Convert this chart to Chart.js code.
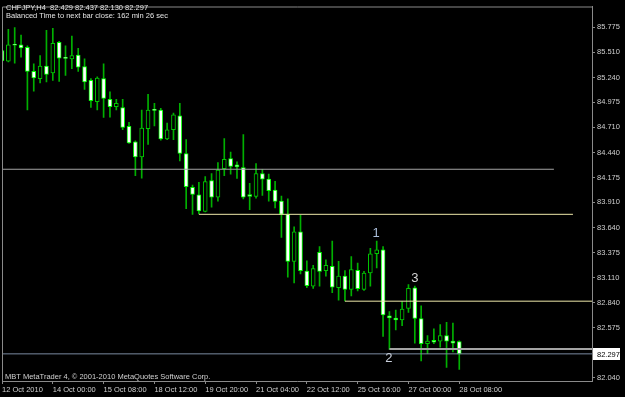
<!DOCTYPE html>
<html>
<head>
<meta charset="utf-8">
<script src="https://cdn.jsdelivr.net/npm/chart.js@4.4.1/dist/chart.umd.min.js"></script>
<style>
  html, body { margin: 0; padding: 0; background: #000; }
  #wrap { width: 625px; height: 397px; }
  canvas { display: block; }
</style>
</head>
<body>
<div id="wrap"><canvas id="chart" width="625" height="397"></canvas></div>
<script>
// CHFJPY H4 bars, 12 Oct 2010 16:00 .. 28 Oct 2010 08:00
const opens = [
  85.526, 85.414, 85.589, 85.589, 85.561, 85.305, 85.228, 85.362, 85.288, 85.614,
  85.450, 85.438, 85.480, 85.357, 85.210, 84.983, 85.228, 85.007, 84.930, 84.920,
  84.720, 84.555, 84.394, 84.694, 84.896, 84.894, 84.586, 84.684, 84.831, 84.431,
  84.071, 83.990, 83.815, 84.141, 83.965, 84.270, 84.376, 84.309, 84.281, 83.994,
  83.973, 84.218, 84.158, 84.042, 83.923, 83.783, 83.282, 83.597, 83.179, 83.019,
  83.379, 83.184, 83.229, 83.001, 83.124, 82.984, 83.187, 82.984, 83.158, 83.363,
  83.405, 82.703, 82.679, 82.658, 82.780, 83.001, 82.674, 82.405, 82.440, 82.433,
  82.492, 82.433, 82.429
];
const highs = [
  85.596, 85.754, 85.772, 85.691, 85.578, 85.386, 85.473, 85.743, 85.764, 85.625,
  85.578, 85.680, 85.551, 85.438, 85.228, 85.246, 85.386, 85.088, 85.007, 85.007,
  84.762, 84.565, 84.894, 85.060, 84.965, 84.912, 84.754, 84.860, 84.965, 84.579,
  84.095, 84.123, 84.186, 84.218, 84.334, 84.589, 84.446, 84.341, 84.631, 84.113,
  84.323, 84.263, 84.211, 84.134, 83.976, 83.948, 83.650, 83.773, 83.289, 83.239,
  83.439, 83.299, 83.499, 83.282, 83.184, 83.334, 83.264, 83.176, 83.421, 83.499,
  83.439, 82.748, 82.763, 82.853, 83.036, 83.019, 82.808, 82.492, 82.563, 82.608,
  82.632, 82.626, 82.437
];
const lows = [
  85.323, 85.407, 85.393, 85.456, 84.894, 85.094, 85.183, 85.193, 85.210, 85.199,
  85.263, 85.333, 85.305, 85.112, 84.920, 84.894, 84.814, 84.818, 84.894, 84.684,
  84.537, 84.194, 84.168, 84.526, 84.723, 84.572, 84.579, 84.579, 84.351, 83.842,
  83.783, 83.790, 83.808, 83.860, 83.923, 84.194, 84.211, 84.165, 83.947, 83.832,
  83.955, 83.983, 83.923, 83.850, 83.537, 83.113, 83.053, 83.148, 83.001, 82.994,
  83.019, 83.124, 82.948, 82.868, 82.861, 82.913, 82.966, 82.973, 83.019, 83.211,
  82.482, 82.345, 82.553, 82.598, 82.738, 82.411, 82.222, 82.300, 82.405, 82.369,
  82.153, 82.317, 82.130
];
const closes = [
  85.420, 85.589, 85.583, 85.554, 85.305, 85.235, 85.362, 85.273, 85.604, 85.446,
  85.443, 85.473, 85.351, 85.193, 84.993, 85.235, 85.017, 84.930, 84.965, 84.709,
  84.544, 84.394, 84.702, 84.894, 84.890, 84.586, 84.684, 84.842, 84.431, 84.078,
  83.994, 83.818, 84.131, 83.965, 84.253, 84.368, 84.292, 84.288, 83.965, 83.973,
  84.218, 84.158, 84.036, 83.920, 83.783, 83.282, 83.597, 83.184, 83.022, 83.205,
  83.176, 83.239, 83.008, 83.124, 82.984, 83.194, 82.990, 83.158, 83.363, 83.405,
  82.713, 82.679, 82.658, 82.773, 82.994, 82.674, 82.405, 82.433, 82.422, 82.492,
  82.433, 82.411, 82.297
];

// axis ticks
const timeTickIdx = [0, 8, 16, 24, 32, 40, 48, 56, 64, 72];
const timeLabels = ['12 Oct 2010', '14 Oct 00:00', '15 Oct 08:00', '18 Oct 12:00', '19 Oct 20:00',
  '21 Oct 04:00', '22 Oct 12:00', '25 Oct 16:00', '27 Oct 00:00', '28 Oct 08:00'];
const priceTicks = [85.775, 85.510, 85.240, 84.975, 84.710, 84.440, 84.175, 83.910,
  83.640, 83.375, 83.110, 82.840, 82.575, 82.040];

// drawn levels (price, first bar, last bar)
const levelPrices = [84.263, 83.783, 82.858, 82.350];
const levelStart = [0, 31, 54, 61];
const levelEnd = [86.9, 89.9, 92.9, 92.9];

// wave marks
const waveText = ['1', '2', '3'];
const waveIdx = [58.9, 60.9, 65];
const wavePrice = [83.576, 82.250, 83.103];

const X_MAX = 92.9;
const FONT = "'Liberation Sans', Arial, sans-serif";
const last = closes.length - 1;
const bid = closes[last];

const levelColors = ['#a4a4a4', '#eee8aa', '#eee8aa', '#a4a4a4'];
const levelWidths = [1.2, 1, 1, 2];
const waveColors = ['#a9bcd8', '#c9d0dc', '#d4d4d4'];

const mtOverlay = {
  id: 'mtOverlay',
  afterDraw(chart) {
    const ctx = chart.ctx;
    const a = chart.chartArea;
    const xs = chart.scales.x, ys = chart.scales.y;
    ctx.save();
    // frame left / top
    ctx.strokeStyle = '#8a8a8a';
    ctx.lineWidth = 1;
    ctx.beginPath();
    ctx.moveTo(a.left + 0.5, a.bottom);
    ctx.lineTo(a.left + 0.5, a.top + 0.5);
    ctx.lineTo(a.right, a.top + 0.5);
    ctx.stroke();

    ctx.font = '7.5px ' + FONT;
    ctx.textBaseline = 'middle';
    ctx.textAlign = 'left';
    ctx.fillStyle = '#e4e4e4';
    ctx.fillText('CHFJPY,H4  ' + [opens[last], highs[last], lows[last], closes[last]].map(v => v.toFixed(3)).join(' '), 6, 7.5);
    ctx.fillText('Balanced Time to next bar close: 162 min 26 sec', 6, 16);
    ctx.fillStyle = '#d0d0d0';
    ctx.fillText('MBT MetaTrader 4, \u00a9 2001-2010 MetaQuotes Software Corp.', 5, 376.5);

    // wave numbers
    ctx.font = '13px ' + FONT;
    ctx.textAlign = 'center';
    waveText.forEach((t, i) => {
      ctx.fillStyle = waveColors[i];
      ctx.fillText(t, xs.getPixelForValue(waveIdx[i]), ys.getPixelForValue(wavePrice[i]));
    });

    // current price box
    const py = Math.round(ys.getPixelForValue(bid));
    ctx.fillStyle = '#ffffff';
    ctx.fillRect(a.right + 1, py - 6, 27, 12);
    ctx.fillStyle = '#000000';
    ctx.font = '7.5px ' + FONT;
    ctx.textAlign = 'left';
    ctx.fillText(bid.toFixed(3), a.right + 5, py + 0.5);
    ctx.restore();
  }
};

const wickData = lows.map((l, i) => ({ x: i, y: [l, highs[i]] }));
const bodyData = opens.map((o, i) => ({ x: i, y: [o, closes[i]] }));
const isBear = opens.map((o, i) => closes[i] < o);

const datasets = [
  {
    type: 'bar', data: wickData, order: 3, grouped: false,
    backgroundColor: '#00b000', barThickness: 1, borderWidth: 0
  },
  {
    type: 'bar', data: bodyData, order: 2, grouped: false,
    backgroundColor: isBear.map(b => b ? '#ffffff' : '#000000'),
    borderColor: isBear.map(b => b ? '#00ff00' : '#00c800'),
    borderWidth: 1, borderSkipped: false, barThickness: 4, minBarLength: 1
  }
];
levelPrices.forEach((p, i) => {
  datasets.push({
    type: 'line', order: 1,
    data: [{ x: levelStart[i], y: p }, { x: levelEnd[i], y: p }],
    borderColor: levelColors[i], borderWidth: levelWidths[i],
    pointRadius: 0, tension: 0
  });
});
datasets.push({
  type: 'line', order: 0,
  data: [{ x: 0, y: bid }, { x: X_MAX, y: bid }],
  borderColor: '#7a8aa0', borderWidth: 1, pointRadius: 0
});

new Chart(document.getElementById('chart'), {
  type: 'bar',
  data: { datasets },
  plugins: [mtOverlay],
  options: {
    responsive: false,
    animation: false,
    events: [],
    layout: { padding: { left: 2, top: 2, right: 0, bottom: 0 } },
    plugins: { legend: { display: false }, tooltip: { enabled: false } },
    scales: {
      x: {
        type: 'linear', min: 0, max: X_MAX, offset: false,
        afterBuildTicks: s => { s.ticks = timeTickIdx.map(v => ({ value: v })); },
        afterFit: s => { s.height = 16; },
        ticks: {
          autoSkip: false, maxRotation: 0, align: 'start', padding: 1,
          color: '#cfcfcf', font: { family: FONT, size: 7.5 },
          callback: (v, i) => timeLabels[i]
        },
        grid: { drawOnChartArea: false, drawTicks: true, tickLength: 3, color: '#8a8a8a', offset: false },
        border: { color: '#8a8a8a', width: 1 }
      },
      y: {
        position: 'right', min: 82.008, max: 85.996,
        afterBuildTicks: s => { s.ticks = priceTicks.map(v => ({ value: v })); },
        afterFit: s => { s.width = 33; },
        ticks: {
          padding: 2, color: '#cfcfcf', font: { family: FONT, size: 7.5 },
          callback: v => v.toFixed(3)
        },
        grid: { drawOnChartArea: false, drawTicks: true, tickLength: 3, color: '#8a8a8a' },
        border: { color: '#8a8a8a', width: 1 }
      }
    }
  }
});
</script>
</body>
</html>
